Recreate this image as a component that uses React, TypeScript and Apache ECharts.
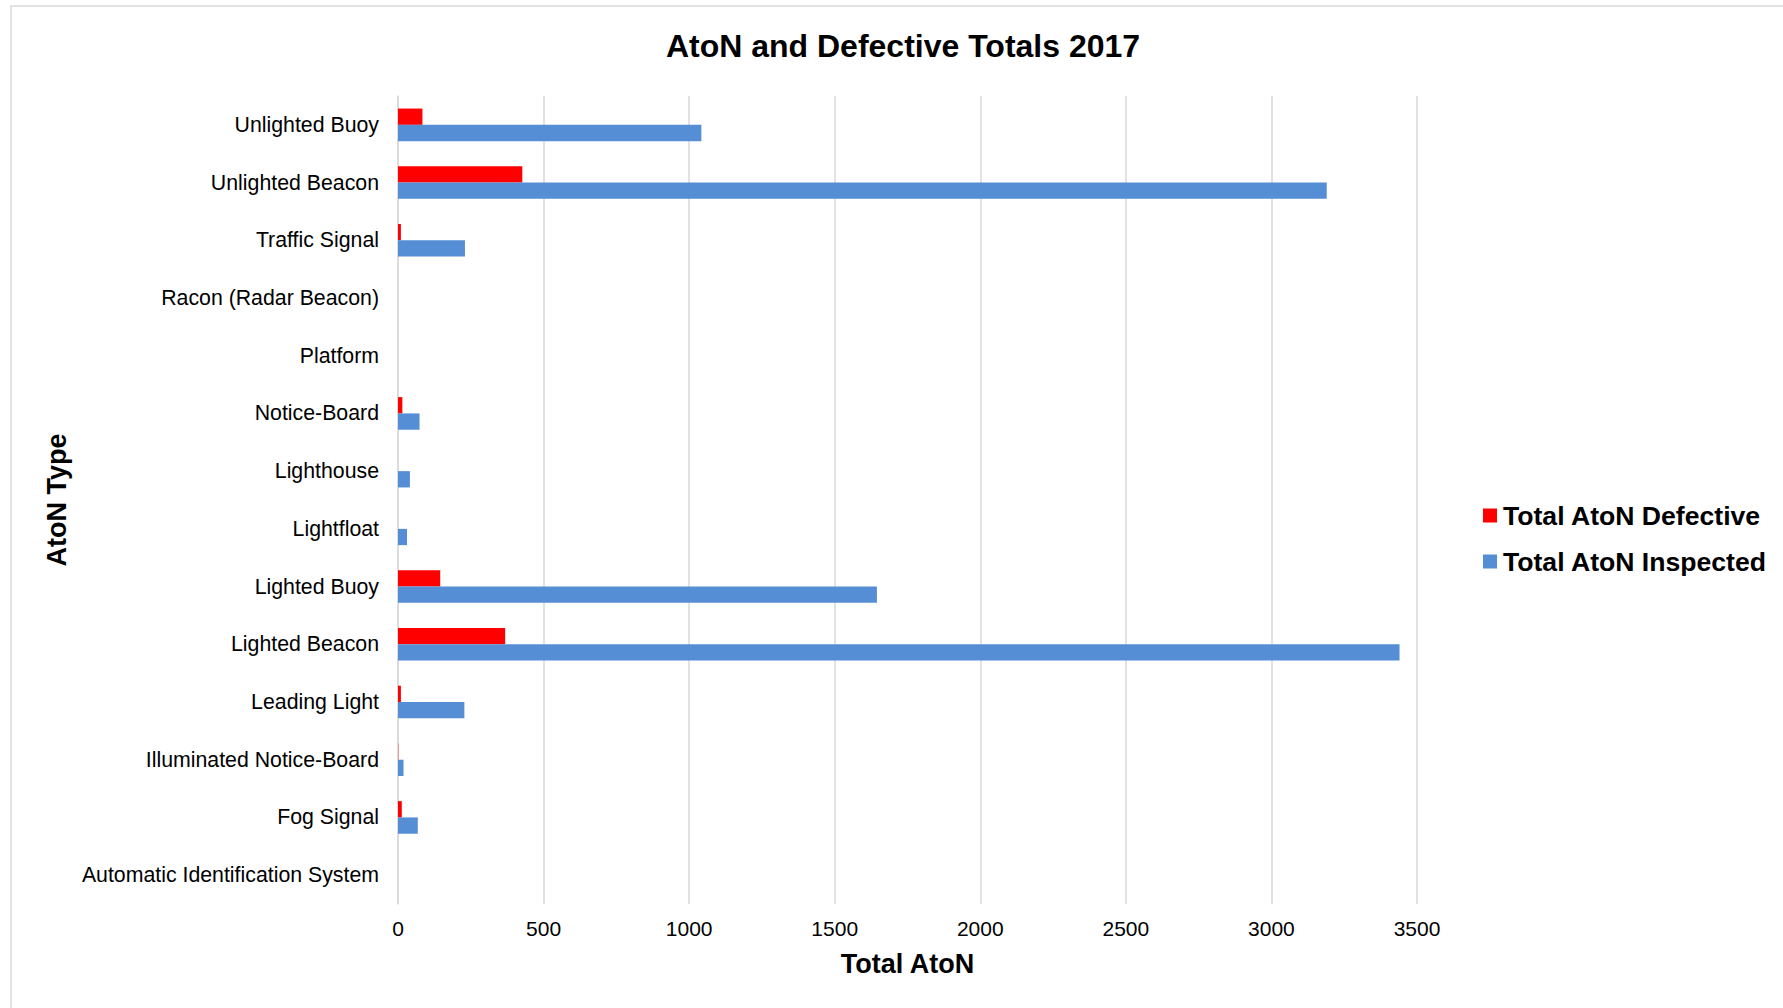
import React, { useEffect, useRef } from "react";
import * as echarts from "echarts";

const categories = [
  "Unlighted Buoy",
  "Unlighted Beacon",
  "Traffic Signal",
  "Racon (Radar Beacon)",
  "Platform",
  "Notice-Board",
  "Lighthouse",
  "Lightfloat",
  "Lighted Buoy",
  "Lighted Beacon",
  "Leading Light",
  "Illuminated Notice-Board",
  "Fog Signal",
  "Automatic Identification System",
];

const defective = [84, 427, 10, 0, 0, 15, 0, 0, 145, 368, 10, 1, 13, 0];
const inspected = [1042, 3190, 230, 0, 0, 74, 41, 31, 1645, 3440, 228, 19, 68, 0];

const xTicks = [0, 500, 1000, 1500, 2000, 2500, 3000, 3500];

const FONT = "'Liberation Sans', Arial, sans-serif";

export default function App() {
  const ref = useRef<HTMLDivElement>(null);
  useEffect(() => {
    document.body.style.margin = "0";
    const chart = echarts.init(ref.current!, null, { renderer: "svg" });
    chart.setOption({
      animation: false,
      backgroundColor: "#fff",
      textStyle: { fontFamily: FONT },
      title: {
        text: "AtoN and Defective Totals 2017",
        left: 898,
        textAlign: "center",
        top: 25,
        textStyle: { fontSize: 32, fontWeight: "bold", color: "#000", fontFamily: FONT },
      },
      graphic: [
        {
          type: "rect",
          shape: { x: 11, y: 6, width: 1800, height: 1100 },
          style: { fill: "none", stroke: "#d9d9d9", lineWidth: 1.5 },
          silent: true,
        },
      ],
      legend: {
        orient: "vertical",
        left: 1478,
        top: 497,
        itemWidth: 14,
        itemHeight: 14,
        itemGap: 19,
        icon: "rect",
        textStyle: { fontSize: 26.6, fontWeight: "bold", color: "#000", fontFamily: FONT, padding: [0, 0, 0, 1] },
        data: ["Total AtoN Defective", "Total AtoN Inspected"],
      },
      grid: { left: 398, right: 366, top: 96, bottom: 104, containLabel: false },
      xAxis: {
        type: "value",
        min: xTicks[0],
        max: xTicks[xTicks.length - 1],
        interval: 500,
        name: "Total AtoN",
        nameLocation: "middle",
        nameGap: 46,
        nameTextStyle: { fontSize: 27, fontWeight: "bold", color: "#000", fontFamily: FONT },
        axisLine: { show: false },
        axisTick: { show: false },
        axisLabel: {
          fontSize: 21,
          color: "#000",
          margin: 14,
          fontFamily: FONT,
          formatter: (v: number) => String(v),
        },
        splitLine: { show: true, lineStyle: { color: "#d9d9d9", width: 1.5 } },
      },
      yAxis: {
        type: "category",
        data: categories,
        inverse: true,
        name: "AtoN Type",
        nameLocation: "middle",
        nameRotate: 90,
        nameGap: 324,
        nameTextStyle: { fontSize: 27, fontWeight: "bold", color: "#000", fontFamily: FONT },
        axisLine: { show: true, lineStyle: { color: "#d9d9d9", width: 1.5 } },
        axisTick: { show: false },
        axisLabel: { fontSize: 21.3, color: "#000", margin: 19, fontFamily: FONT },
      },
      series: [
        {
          name: "Total AtoN Defective",
          type: "bar",
          data: defective,
          barWidth: 16.3,
          barGap: "0%",
          itemStyle: { color: "#ff0000" },
        },
        {
          name: "Total AtoN Inspected",
          type: "bar",
          data: inspected,
          barWidth: 16.3,
          barGap: "0%",
          itemStyle: { color: "#558ed5" },
        },
      ],
    });
    return () => chart.dispose();
  }, []);
  return <div ref={ref} style={{ width: 1783, height: 1008 }} />;
}
